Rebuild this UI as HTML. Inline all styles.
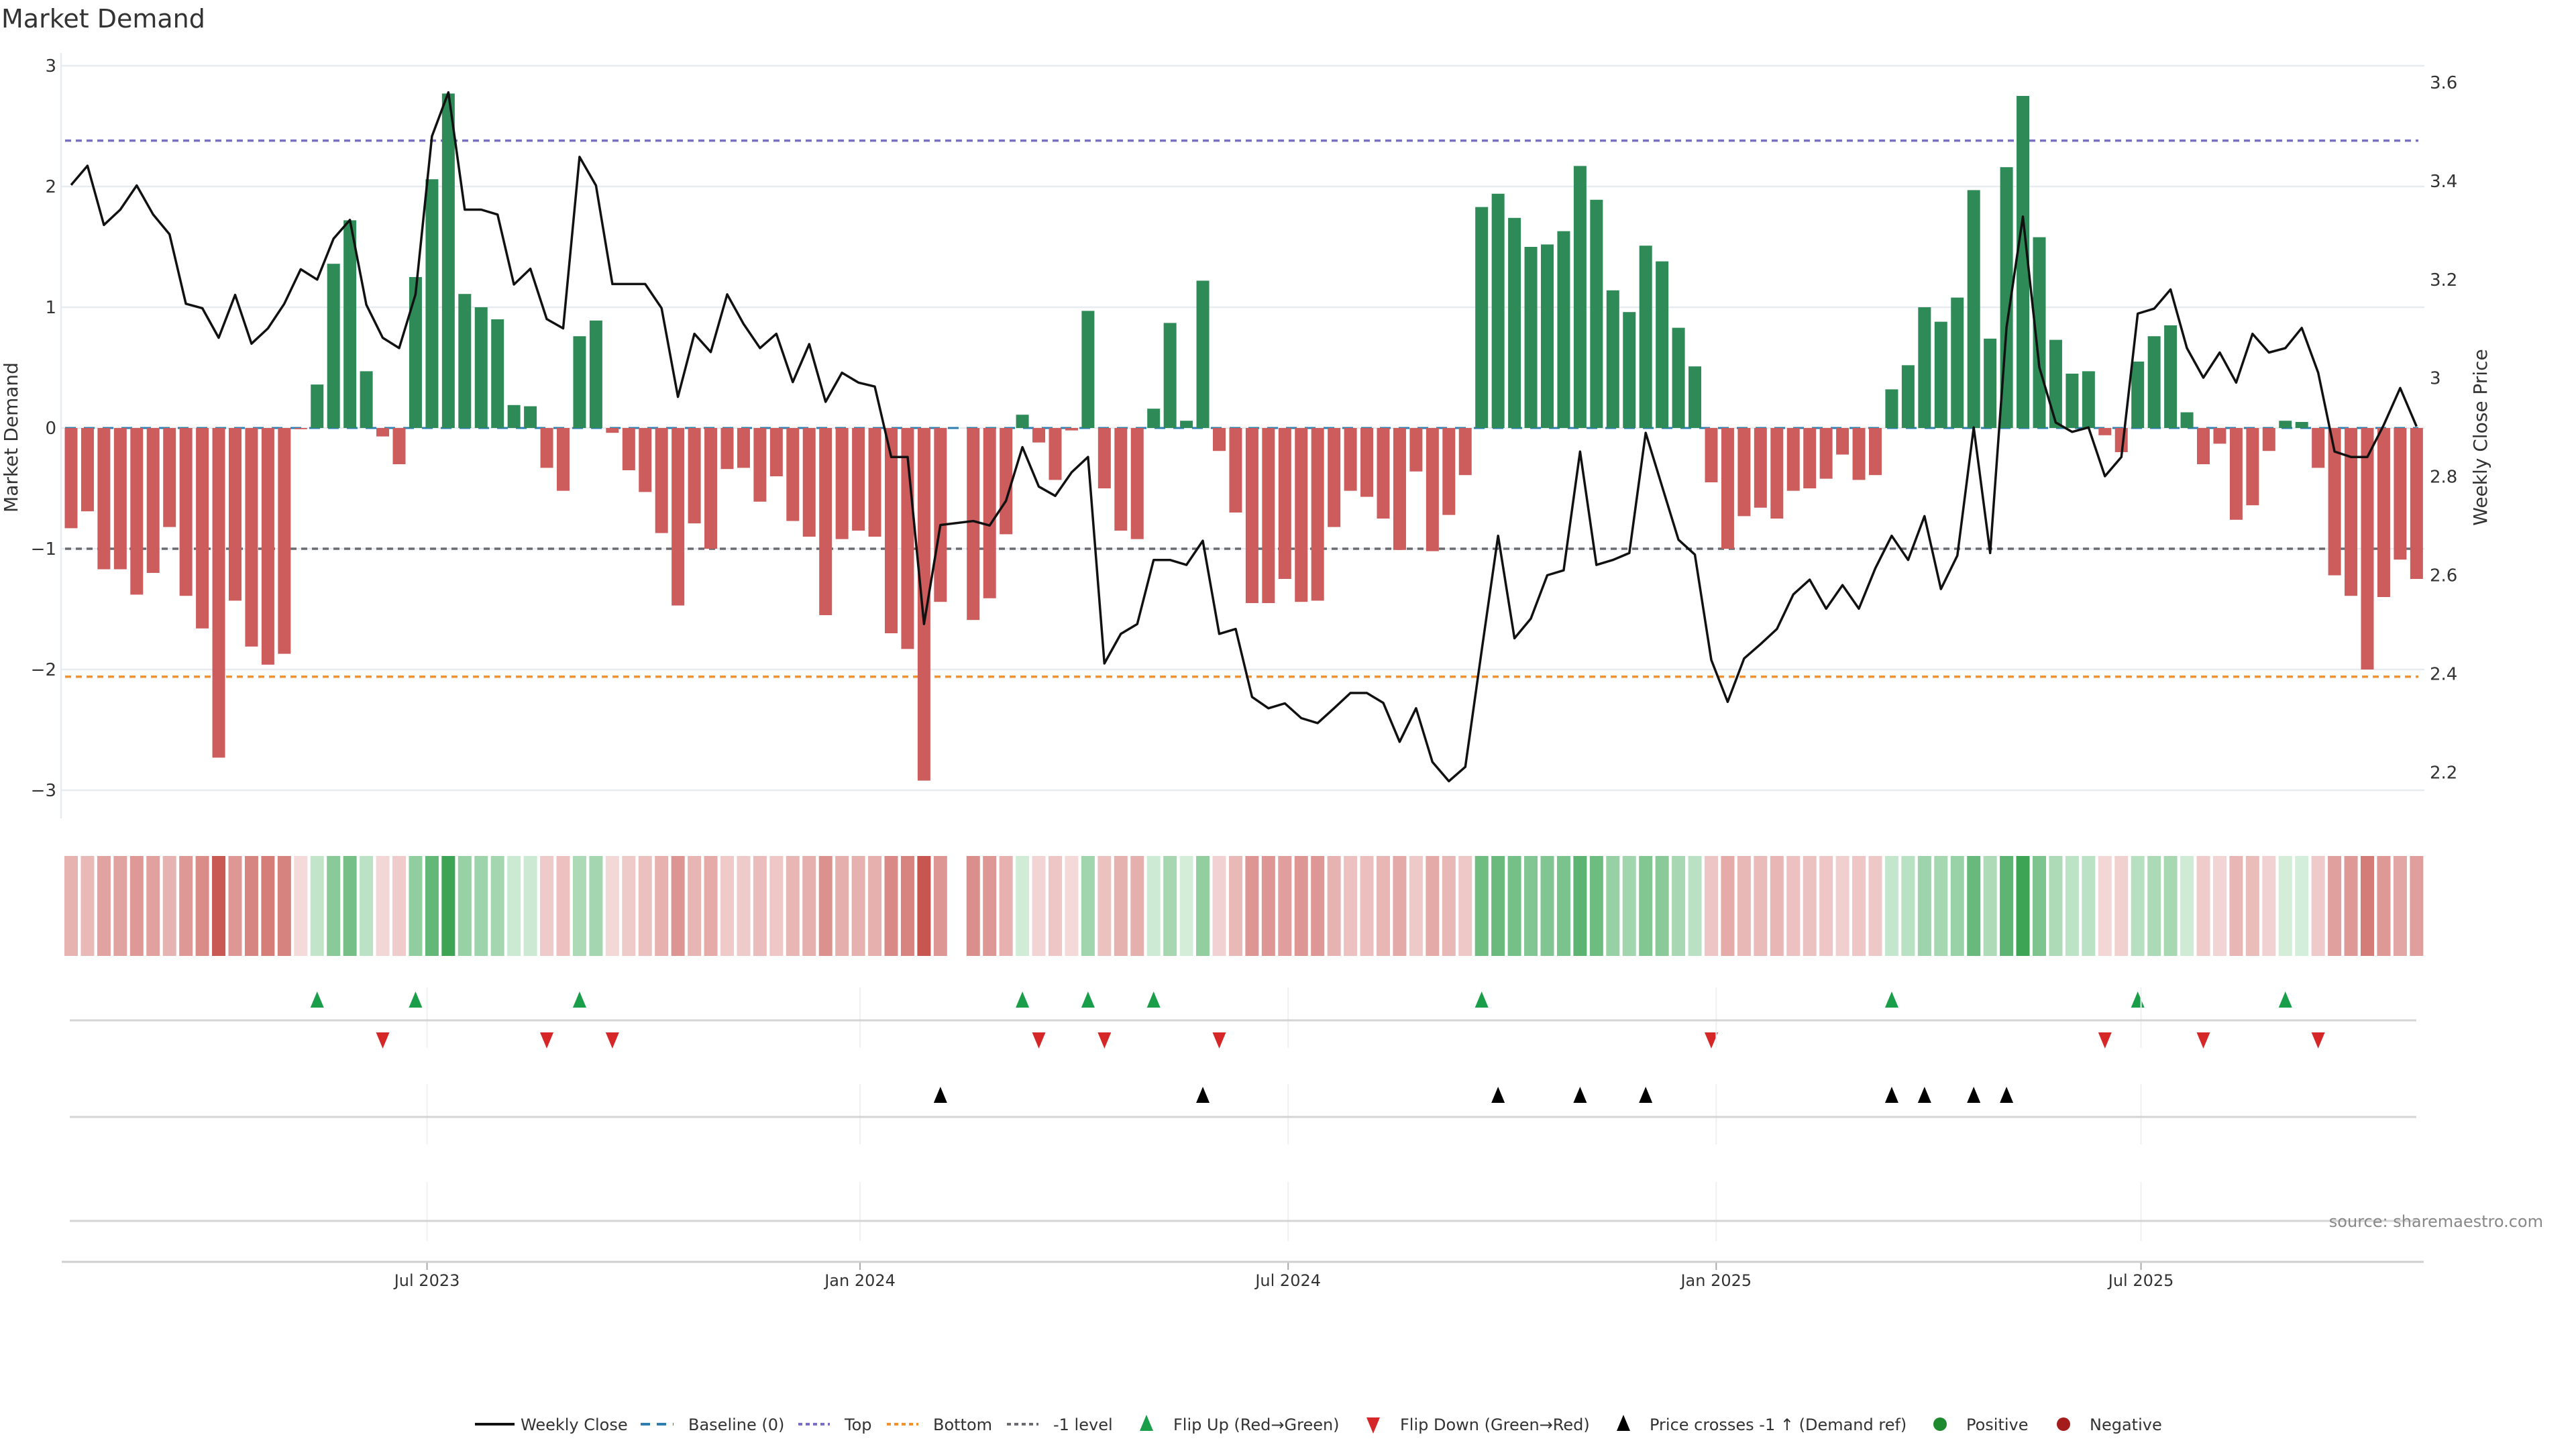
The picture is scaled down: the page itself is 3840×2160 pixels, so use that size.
<!DOCTYPE html>
<html><head><meta charset="utf-8"><style>
html,body{margin:0;padding:0;background:#fff;}
svg{display:block;font-family:"DejaVu Sans","Liberation Sans",sans-serif;}
</style></head><body>
<svg id="chart" width="3840" height="2160" viewBox="0 0 3840 2160" xmlns="http://www.w3.org/2000/svg">
<rect width="3840" height="2160" fill="#fff"/>
<text x="2" y="41" font-size="38" fill="#333">Market Demand</text>
<g id="grid"></g><g id="refs"></g><g id="bars"></g><g id="line"></g><g id="axes"></g>
<g id="heat"></g><g id="markers"></g><g id="xaxis"></g>
<text transform="translate(26,652) rotate(-90)" text-anchor="middle" font-size="28" fill="#333">Market Demand</text>
<text transform="translate(3707,652) rotate(-90)" text-anchor="middle" font-size="28" fill="#333">Weekly Close Price</text>
<text x="3791" y="1829" text-anchor="end" font-size="24" fill="#888">source: sharemaestro.com</text>
<g id="legend" font-size="24" fill="#333"></g>
</svg>
<script>
const demand = [-0.83,-0.69,-1.17,-1.17,-1.38,-1.20,-0.82,-1.39,-1.66,-2.73,-1.43,-1.81,-1.96,-1.87,-0.01,0.36,1.36,1.72,0.47,-0.07,
-0.30,1.25,2.06,2.77,1.11,1.00,0.90,0.19,0.18,-0.33,-0.52,0.76,0.89,-0.04,-0.35,-0.53,-0.87,-1.47,-0.79,-1.00,
-0.34,-0.33,-0.61,-0.40,-0.77,-0.90,-1.55,-0.92,-0.85,-0.90,-1.70,-1.83,-2.92,-1.44,null,-1.59,-1.41,-0.88,0.11,-0.12,
-0.43,-0.02,0.97,-0.50,-0.85,-0.92,0.16,0.87,0.06,1.22,-0.19,-0.70,-1.45,-1.45,-1.25,-1.44,-1.43,-0.82,-0.52,-0.57,
-0.75,-1.01,-0.36,-1.02,-0.72,-0.39,1.83,1.94,1.74,1.50,1.52,1.63,2.17,1.89,1.14,0.96,1.51,1.38,0.83,0.51,
-0.45,-1.00,-0.73,-0.66,-0.75,-0.52,-0.50,-0.42,-0.22,-0.43,-0.39,0.32,0.52,1.00,0.88,1.08,1.97,0.74,2.16,2.75,
1.58,0.73,0.45,0.47,-0.06,-0.20,0.55,0.76,0.85,0.13,-0.30,-0.13,-0.76,-0.64,-0.19,0.06,0.05,-0.33,-1.22,-1.39,
-2.00,-1.40,-1.09,-1.25];
const price = [3.392,3.431,3.311,3.342,3.391,3.332,3.292,3.151,3.142,3.082,3.169,3.070,3.101,3.151,3.221,3.200,3.283,3.321,3.149,3.082,
3.061,3.170,3.491,3.580,3.342,3.342,3.332,3.190,3.222,3.120,3.101,3.449,3.391,3.191,3.191,3.191,3.142,2.962,3.090,3.053,
3.170,3.110,3.061,3.090,2.992,3.069,2.952,3.011,2.991,2.983,2.840,2.840,2.501,2.702,null,2.710,2.701,2.751,2.860,2.780,
2.761,2.809,2.840,2.421,2.481,2.501,2.631,2.631,2.621,2.670,2.481,2.491,2.353,2.330,2.340,2.310,2.300,2.330,2.361,2.361,
2.341,2.262,2.330,2.221,2.182,2.211,2.447,2.680,2.472,2.512,2.600,2.610,2.851,2.621,2.631,2.645,2.889,2.780,2.672,2.642,
2.428,2.343,2.431,2.460,2.491,2.561,2.591,2.532,2.580,2.532,2.614,2.680,2.631,2.720,2.572,2.640,2.900,2.645,3.103,3.328,
3.022,2.910,2.891,2.900,2.801,2.840,3.131,3.141,3.180,3.061,3.001,3.052,2.991,3.090,3.052,3.061,3.102,3.011,2.851,2.840,
2.840,2.905,2.980,2.902];
const demandTicks = [-3,-2,-1,0,1,2,3];
const priceTicks = [2.2,2.4,2.6,2.8,3,3.2,3.4,3.6];
const dateLabels = ["Jul 2023","Jan 2024","Jul 2024","Jan 2025","Jul 2025"];
const dateTickIndex = [21.7,48.1,74.2,100.3,126.2];
const levels = {top:2.38, bottom:-2.06, minus1:-1};

const NS="http://www.w3.org/2000/svg";
function mk(tag, attrs, parent){const e=document.createElementNS(NS,tag);for(const k in attrs)e.setAttribute(k,attrs[k]);parent.appendChild(e);return e;}
const X0=91, X1=3614;
function xB(i){return 106+i*24.45;}
function yD(v){return 638-180*v;}
function yP(p){return 123+(3.6-p)*734.5;}
function pFromY(y){return 3.6-(y-123)/734.5;}

const grid=document.getElementById('grid');
demandTicks.forEach(t=>{
  const l=mk('line',{x1:X0,x2:X1,y1:yD(t),y2:yD(t),stroke:'#e8ebf0','stroke-width':2.5},grid);
  
  
});
const axes=document.getElementById('axes');
const sp=mk('line',{x1:X0,x2:X0,y1:79,y2:1220,stroke:'#e8ebf0','stroke-width':2.5},axes);


demandTicks.forEach(t=>{
  const tx=mk('text',{x:84,y:yD(t)+9,'text-anchor':'end','font-size':26,fill:'#333'},axes);
  tx.textContent=(t<0?'\u2212'+Math.abs(t):String(t));
  
  
});
priceTicks.forEach(t=>{
  const tx=mk('text',{x:3622,y:yP(t)+9,'font-size':26,fill:'#333'},axes);
  tx.textContent=String(t);
  
  
});

const refs=document.getElementById('refs');
function refLine(v,color,dash,name,w){
  const l=mk('line',{x1:97,x2:3605,y1:yD(v),y2:yD(v),stroke:color,'stroke-width':w||3.5,'stroke-dasharray':dash},refs);
  
  
}
refLine(levels.top,'#7a6fc6','9 7','top-level-line');
refLine(levels.bottom,'#f0922e','9 7','bottom-level-line');
refLine(levels.minus1,'#6a6a70','9 7','minus1-level-line');

const bars=document.getElementById('bars');
demand.forEach((v,i)=>{
  if(v===null)return;
  const y0=yD(0), y1=yD(v);
  const r=mk('rect',{x:xB(i)-9.5,y:Math.min(y0,y1),width:19,height:Math.max(1.5,Math.abs(y1-y0)),fill:v>=0?'#2e8b57':'#cd5c5c'},bars);
  
  
});
refLine(0,'#2e7fb0','16 12','baseline-zero',3);

const lineG=document.getElementById('line');
let d='';let started=false;
price.forEach((p,i)=>{ if(p===null)return; d+=(started?'L':'M')+xB(i).toFixed(1)+' '+yP(p).toFixed(1)+' '; started=true;});
const pl=mk('path',{d:d,fill:'none',stroke:'#111','stroke-width':3.5,'stroke-linejoin':'round'},lineG);



function lerp(a,b,t){return Math.round(a+(b-a)*t);}
function heatColor(v){
  const t=Math.min(Math.abs(v)/2.8,1);
  if(v>=0) return 'rgb('+lerp(214,58,t)+','+lerp(239,163,t)+','+lerp(220,83,t)+')';
  return 'rgb('+lerp(244,199,t)+','+lerp(218,86,t)+','+lerp(218,80,t)+')';
}
const heat=document.getElementById('heat');
demand.forEach((v,i)=>{
  if(v===null)return;
  const r=mk('rect',{x:xB(i)-10,y:1276,width:20,height:149,fill:heatColor(v)},heat);
  
  
});

const xa=document.getElementById('xaxis');
dateTickIndex.forEach((di,k)=>{
  const x=xB(di);
  [[1472,1562],[1616,1706],[1762,1850]].forEach(s=>{
    const g=mk('line',{x1:x,x2:x,y1:s[0],y2:s[1],stroke:'#eef0f3','stroke-width':2},xa);
    
    
  });
  const t=mk('line',{x1:x,x2:x,y1:1881,y2:1893,stroke:'#aaa','stroke-width':2},xa);
  
  
  const tx=mk('text',{x:x,y:1917,'text-anchor':'middle','font-size':24,fill:'#333'},xa);
  tx.textContent=dateLabels[k];
  
  
});
[1521,1665,1820].forEach(y=>{
  const l=mk('line',{x1:104,x2:3602,y1:y,y2:y,stroke:'#d4d4d4','stroke-width':3},xa);
  
  
});
const ax=mk('line',{x1:92,x2:3613,y1:1881,y2:1881,stroke:'#cfcfcf','stroke-width':3},xa);



const mg=document.getElementById('markers');
function tri(x,y,up,color,name){
  const pts=up?[[x,y-13],[x-10,y+11],[x+10,y+11]]:[[x,y+13],[x-10,y-11],[x+10,y-11]];
  const p=mk('polygon',{points:pts.map(q=>q.join(',')).join(' '),fill:color},mg);
  
  
}
const crossLevel=pFromY(yD(levels.minus1));
let prevV=null, prevP=null;
demand.forEach((v,i)=>{
  if(v!==null){
    if(prevV!==null && prevV<=0 && v>0) tri(xB(i),1491,true,'#1a9e4a','flip-up-marker');
    if(prevV!==null && prevV>0 && v<=0) tri(xB(i),1550,false,'#d62728','flip-down-marker');
    prevV=v;
  }
  const p=price[i];
  if(p!==null){
    if(prevP!==null && prevP<crossLevel && p>=crossLevel) tri(xB(i),1633,true,'#000','price-cross-marker');
    prevP=p;
  }
});

const lg=document.getElementById('legend');
function lgText(x,s){const t=mk('text',{x:x,y:2132},lg);t.textContent=s;}
function lgLine(x1,x2,color,dash,w){const l=mk('line',{x1:x1,x2:x2,y1:2123,y2:2123,stroke:color,'stroke-width':w,'stroke-dasharray':dash},lg);}
lgLine(708,767,'#111','',4); lgText(776,'Weekly Close');
lgLine(955,1004,'#2e7fb0','14 10',4); lgText(1026,'Baseline (0)');
lgLine(1190,1237,'#7a6fc6','6 5',4); lgText(1259,'Top');
lgLine(1322,1369,'#f0922e','6 5',4); lgText(1391,'Bottom');
lgLine(1501,1548,'#6a6a70','6 5',4); lgText(1570,'-1 level');
tri(1709,2122,true,'#1a9e4a','legend-flip-up'); lgText(1749,'Flip Up (Red\u2192Green)');
tri(2047,2124,false,'#d62728','legend-flip-down'); lgText(2087,'Flip Down (Green\u2192Red)');
tri(2420,2122,true,'#000','legend-price-cross'); lgText(2459,'Price crosses -1 \u2191 (Demand ref)');
const c1=mk('circle',{cx:2892,cy:2123,r:10,fill:'#1e8a2e'},lg);


lgText(2931,'Positive');
const c2=mk('circle',{cx:3076,cy:2123,r:10,fill:'#a51c1c'},lg);


lgText(3115,'Negative');
</script>
</body></html>
